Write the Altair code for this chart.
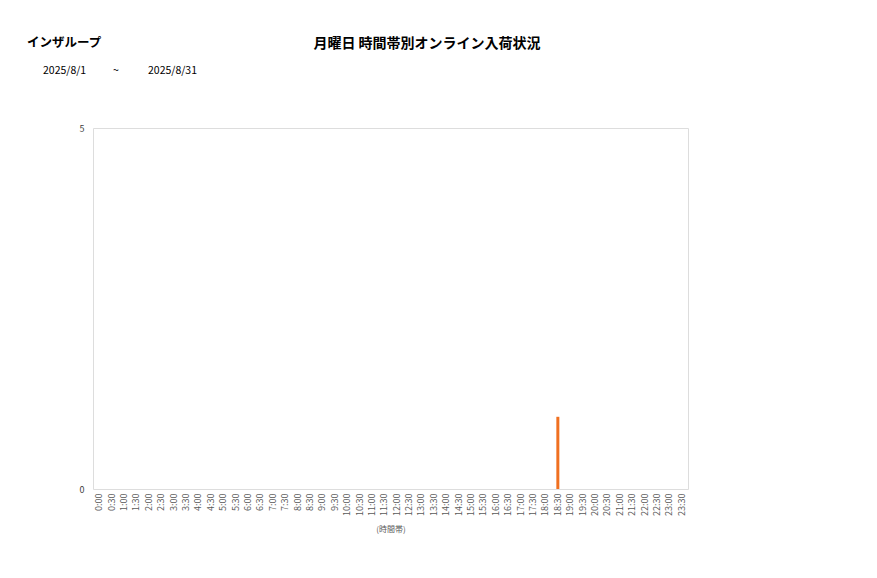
import altair as alt
import pandas as pd

slots = [f"{h}:{m:02d}" for h in range(24) for m in (0, 30)]
counts = [0] * 48
counts[slots.index("18:30")] = 1

title_text = ["月曜日 時間帯別オンライン入荷状況"]
group_text = ["インザループ"]
date_texts = ["2025/8/1", "~", "2025/8/31"]

df = pd.DataFrame({"slot": slots, "count": counts})

FONT = "Noto Sans CJK JP"
W, H = 595, 361

bars = alt.Chart(df).mark_bar(size=3, color="#F07020").encode(
    x=alt.X("slot:N", sort=slots, title="(時間帯)",
            scale=alt.Scale(paddingInner=0, paddingOuter=0),
            axis=alt.Axis(labelAngle=-90, labelFontSize=9, labelColor="#595959",
                          labelFont=FONT, ticks=False, domain=False, grid=False,
                          labelPadding=4, titleFontSize=8, titleColor="#595959",
                          titleFont=FONT, titleFontWeight="normal", titlePadding=10)),
    y=alt.Y("count:Q", title=None,
            scale=alt.Scale(domain=[0, 5], nice=False),
            axis=alt.Axis(values=[0, 5], labelFontSize=9, labelColor="#404040",
                          labelFont=FONT, ticks=False, domain=False, grid=False,
                          labelPadding=9)),
)

t1 = alt.Chart(pd.DataFrame({"t": title_text})).mark_text(
    font=FONT, fontSize=14, fontWeight="bold", color="#000000", align="center", baseline="middle"
).encode(text="t:N", x=alt.value(427 - 93), y=alt.value(44 - 128))

t2 = alt.Chart(pd.DataFrame({"t": group_text})).mark_text(
    font=FONT, fontSize=12.5, fontWeight="bold", color="#000000", align="left", baseline="middle"
).encode(text="t:N", x=alt.value(27 - 93), y=alt.value(43 - 128))

dpos = [43, 113, 148]
dates = alt.layer(*[
    alt.Chart(pd.DataFrame({"t": [d]})).mark_text(
        font=FONT, fontSize=10.5, color="#000000", align="left", baseline="middle"
    ).encode(text="t:N", x=alt.value(px - 93), y=alt.value(71 - 128))
    for d, px in zip(date_texts, dpos)
])

chart = alt.layer(bars, t1, t2, dates).properties(
    width=W, height=H,
    autosize=alt.AutoSizeParams(type="none"),
    padding={"left": 85, "top": 120, "right": 10, "bottom": 60},
).configure_view(stroke="#d9d9d9", strokeWidth=1).configure(background="white")

chart.save("out.html", embed_options={"renderer": "svg", "actions": False})
